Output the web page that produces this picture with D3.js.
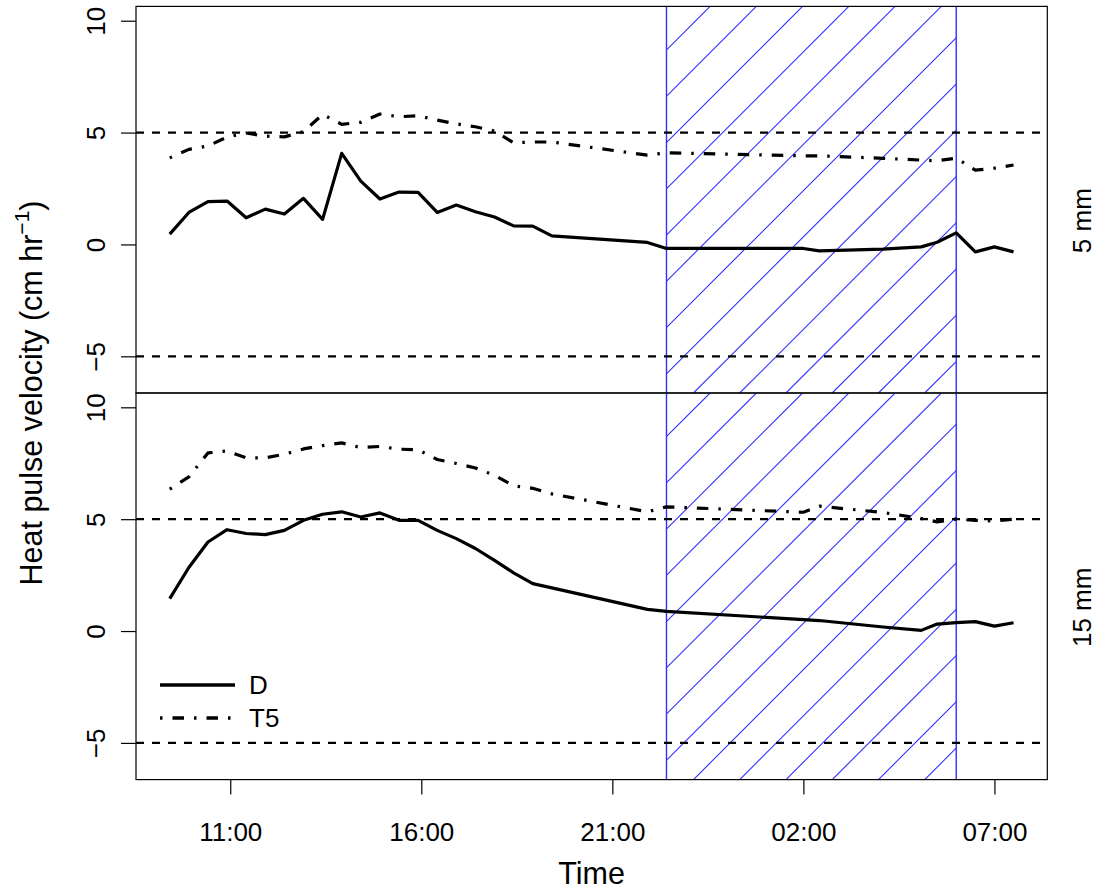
<!DOCTYPE html>
<html>
<head>
<meta charset="utf-8">
<script src="https://cdn.jsdelivr.net/npm/d3@7"></script>
<style>
  body { margin: 0; background: #fff; }
  text { font-family: "Liberation Sans", Arial, Helvetica, sans-serif; fill: #000; }
</style>
</head>
<body>
<svg id="chart" width="1097" height="894"></svg>
<script>
// Sample times (clock time; readings after midnight belong to the next day)
const times = ["09:25","09:55","10:25","10:55","11:25","11:55","12:25","12:55","13:25","13:55",
               "14:25","14:55","15:25","15:55","16:25","16:55","17:25","17:55","18:25","18:55",
               "19:25","21:55","22:25","02:00","02:25","04:05","05:05","05:30","06:00","06:30",
               "07:00","07:30"];

// Heat pulse velocity (cm/hr), 5 mm depth
const d5mm  = [0.46, 1.43, 1.91, 1.94, 1.19, 1.58, 1.36, 2.06, 1.12, 4.07,
               2.83, 2.03, 2.34, 2.33, 1.43, 1.76, 1.46, 1.23, 0.83, 0.82,
               0.38, 0.09, -0.18, -0.18, -0.29, -0.21, -0.11, 0.10, 0.52, -0.33,
               -0.11, -0.33];
const t5_5mm = [3.87, 4.25, 4.40, 4.80, 4.98, 4.84, 4.81, 5.04, 5.81, 5.37,
               5.46, 5.83, 5.71, 5.75, 5.56, 5.39, 5.26, 5.07, 4.54, 4.58,
               4.58, 3.99, 4.10, 3.96, 3.96, 3.85, 3.77, 3.74, 3.86, 3.32,
               3.41, 3.55];

// Heat pulse velocity (cm/hr), 15 mm depth
const d15mm  = [1.45, 2.84, 3.98, 4.53, 4.36, 4.31, 4.50, 4.95, 5.22, 5.33,
                5.10, 5.28, 4.95, 4.95, 4.50, 4.13, 3.69, 3.16, 2.60, 2.12,
                1.93, 0.97, 0.88, 0.51, 0.47, 0.18, 0.03, 0.31, 0.38, 0.42,
                0.22, 0.37];
const t5_15mm = [6.34, 6.89, 7.96, 8.05, 7.74, 7.74, 7.90, 8.14, 8.29, 8.41,
                 8.20, 8.25, 8.13, 8.10, 7.67, 7.49, 7.29, 6.96, 6.49, 6.38,
                 6.13, 5.33, 5.55, 5.31, 5.58, 5.30, 5.03, 4.88, 5.00, 4.95,
                 4.92, 5.00];

// Night period (shaded)
const nightStart = "22:25";
const nightEnd   = "06:00";

const xTickLabels = ["11:00", "16:00", "21:00", "02:00", "07:00"];
const yTickValues = [-5, 0, 5, 10];
const yLimits     = [-6, 10];
const refLevels   = [-5, 5];
const depthLabels = ["5 mm", "15 mm"];
const seriesNames = ["D", "T5"];

// ---------------------------------------------------------------------------

function toHours(s) {
  const [h, m] = s.split(":").map(Number);
  let v = h + m / 60;
  if (v < 9) v += 24;          // next morning
  return v;
}

const hours = times.map(toHours);

const plotLeft = 136, plotRight = 1047.3;
const plotTop = 6.4, panelH = 386.6;
const tickFont = 26, titleFont = 30.5;

const svg = d3.select("#chart");

// x scale: data range plus 4% on each side
const ext = d3.extent(hours);
const padX = (ext[1] - ext[0]) * 0.04;
const x = d3.scaleLinear().domain([ext[0] - padX, ext[1] + padX]).range([plotLeft, plotRight]);

const padY = (yLimits[1] - yLimits[0]) * 0.04;

const panels = [
  { D: d5mm,  T5: t5_5mm,  label: depthLabels[0] },
  { D: d15mm, T5: t5_15mm, label: depthLabels[1] }
];

const lineWidth = 3.2;
const dotDash = "2.5 10 11.5 10";
const hatchColor = "#3030ff";

panels.forEach((p, i) => {
  const top = plotTop + i * panelH;
  const bottom = top + panelH;
  const y = d3.scaleLinear()
    .domain([yLimits[0] - padY, yLimits[1] + padY])
    .range([bottom, top]);

  const clipId = "clip" + i;
  svg.append("clipPath").attr("id", clipId)
    .append("rect")
    .attr("x", plotLeft).attr("y", top)
    .attr("width", plotRight - plotLeft).attr("height", panelH);

  const g = svg.append("g").attr("clip-path", `url(#${clipId})`);

  // night shading: diagonal hatch + outline
  const x0 = x(toHours(nightStart)), x1 = x(toHours(nightEnd));
  const hatchClip = "hclip" + i;
  svg.append("clipPath").attr("id", hatchClip)
    .append("rect").attr("x", x0).attr("y", top).attr("width", x1 - x0).attr("height", panelH);
  const hg = g.append("g").attr("clip-path", `url(#${hatchClip})`);
  const spacing = 46.25, phase = 43.6;
  const cMin = x0 + top, cMax = x1 + bottom;
  for (let c = cMin + phase - spacing * Math.ceil(phase / spacing); c <= cMax + spacing; c += spacing) {
    hg.append("line")
      .attr("x1", c - bottom).attr("y1", bottom)
      .attr("x2", c - top).attr("y2", top)
      .attr("stroke", hatchColor).attr("stroke-width", 1.1);
  }
  [x0, x1].forEach(xx => {
    g.append("line").attr("x1", xx).attr("x2", xx).attr("y1", top).attr("y2", bottom)
      .attr("stroke", hatchColor).attr("stroke-width", 1.4);
  });

  // reference lines
  refLevels.forEach(v => {
    g.append("line")
      .attr("x1", plotLeft).attr("x2", plotRight)
      .attr("y1", y(v)).attr("y2", y(v))
      .attr("stroke", "#000").attr("stroke-width", 2.2)
      .attr("stroke-dasharray", "8 8");
  });

  const line = d3.line().x((d, k) => x(hours[k])).y(d => y(d));

  g.append("path").datum(p.T5).attr("d", line)
    .attr("fill", "none").attr("stroke", "#000").attr("stroke-width", lineWidth)
    .attr("stroke-dasharray", dotDash).attr("stroke-linejoin", "round");

  g.append("path").datum(p.D).attr("d", line)
    .attr("fill", "none").attr("stroke", "#000").attr("stroke-width", lineWidth)
    .attr("stroke-linejoin", "round");

  // frame
  svg.append("rect")
    .attr("x", plotLeft).attr("y", top)
    .attr("width", plotRight - plotLeft).attr("height", panelH)
    .attr("fill", "none").attr("stroke", "#000").attr("stroke-width", 1.2);

  // y axis
  const ya = svg.append("g").attr("transform", `translate(${plotLeft},0)`)
    .call(d3.axisLeft(y).tickValues(yTickValues).tickSize(15).tickSizeOuter(0));
  ya.select(".domain").remove();
  ya.selectAll(".tick line").attr("stroke", "#000").attr("stroke-width", 1.2);
  ya.selectAll(".tick text")
    .attr("font-size", tickFont)
    .attr("transform", "rotate(-90)")
    .attr("x", 0).attr("y", -31).attr("dy", 0)
    .attr("text-anchor", "middle");

  // depth label on the right
  svg.append("text")
    .attr("transform", `translate(1091,${(top + bottom) / 2 + 21}) rotate(-90)`)
    .attr("text-anchor", "middle")
    .attr("font-size", tickFont)
    .text(p.label);

  // legend in the lower panel
  if (i === 1) {
    const lx0 = 160, lx1 = 235, ly = [685, 718];
    svg.append("line").attr("x1", lx0).attr("x2", lx1).attr("y1", ly[0]).attr("y2", ly[0])
      .attr("stroke", "#000").attr("stroke-width", 3.6);
    svg.append("line").attr("x1", lx0).attr("x2", lx1).attr("y1", ly[1]).attr("y2", ly[1])
      .attr("stroke", "#000").attr("stroke-width", 3.6).attr("stroke-dasharray", dotDash);
    seriesNames.forEach((n, k) => {
      svg.append("text").attr("x", 249).attr("y", ly[k]).attr("dy", "0.36em")
        .attr("font-size", tickFont).text(n);
    });

    // x axis
    const xa = svg.append("g").attr("transform", `translate(0,${bottom})`)
      .call(d3.axisBottom(x)
        .tickValues(xTickLabels.map(toHours))
        .tickFormat((d, k) => xTickLabels[k])
        .tickSize(15).tickSizeOuter(0));
    xa.select(".domain").remove();
    xa.selectAll(".tick line").attr("stroke", "#000").attr("stroke-width", 1.2);
    xa.selectAll(".tick text").attr("font-size", tickFont).attr("y", 61).attr("dy", 0);
  }
});

// axis titles
svg.append("text")
  .attr("x", (plotLeft + plotRight) / 2).attr("y", 884)
  .attr("text-anchor", "middle").attr("font-size", titleFont)
  .text("Time");

const yl = svg.append("text")
  .attr("transform", `translate(42,${plotTop + panelH}) rotate(-90)`)
  .attr("text-anchor", "middle").attr("font-size", titleFont);
yl.append("tspan").text("Heat pulse velocity (cm hr");
yl.append("tspan").attr("dy", -13).attr("font-size", 21).text("\u22121");
yl.append("tspan").attr("dy", 13).text(")");
</script>
</body>
</html>
